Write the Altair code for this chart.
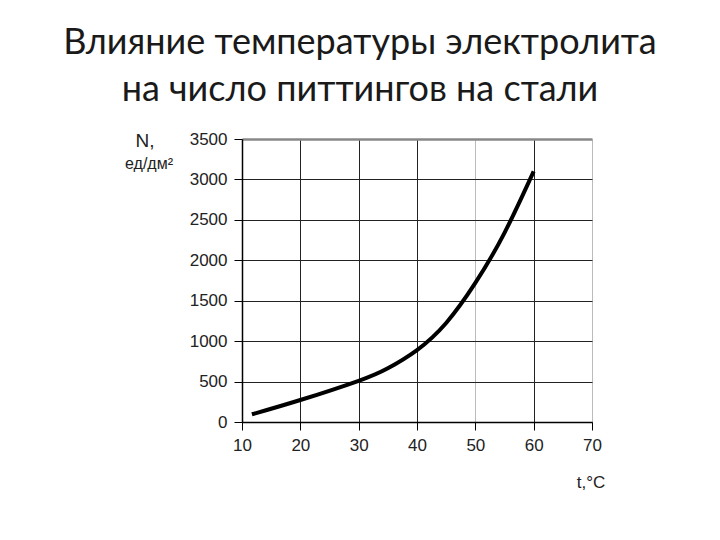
import altair as alt
import pandas as pd

temp = [11.7, 20, 30, 35, 40, 45, 50, 55, 60]
pits = [95, 272, 510, 665, 890, 1225, 1720, 2340, 3100]
x_ticks = [10, 20, 30, 40, 50, 60, 70]
y_ticks = [0, 500, 1000, 1500, 2000, 2500, 3000, 3500]
title_lines = ["Влияние температуры электролита", "на число питтингов на стали"]

df = pd.DataFrame({"t": temp, "N": pits})

W, H = 350, 283

line = alt.Chart(df).mark_line(color="black", strokeWidth=4, interpolate="natural").encode(
    x=alt.X("t:Q", scale=alt.Scale(domain=[10, 70], nice=False),
            axis=alt.Axis(values=x_ticks, title=None, format="d", labelFlush=False,
                          labelPadding=7,
                          gridColor=alt.condition("datum.value == 50 || datum.value == 70",
                                                  alt.value("#bbbbbb"), alt.value("#222222")))),
    y=alt.Y("N:Q", scale=alt.Scale(domain=[0, 3500], nice=False),
            axis=alt.Axis(values=y_ticks, title=None, format="d", labelFlush=False,
                          labelPadding=7,
                          gridColor=alt.condition("datum.value == 3500",
                                                  alt.value("#888888"), alt.value("#222222")),
                          gridWidth=alt.condition("datum.value == 3500",
                                                  alt.value(2.5), alt.value(1)))),
)

def label(txt, x, y, size=17):
    return alt.Chart(pd.DataFrame({"s": [txt]})).mark_text(
        font="Liberation Sans", fontSize=size, color="#222222", align="center", baseline="middle"
    ).encode(x=alt.value(x), y=alt.value(y), text="s:N")

chart = alt.layer(
    line,
    label("N,", -97, 2, 19),
    label("ед/дм²", -93, 25, 16),
    label("t,°C", 349, 344, 17),
).properties(
    width=W, height=H,
    title=alt.TitleParams(text=title_lines, anchor="middle", dx=-57, offset=21,
                          font="Lato", fontSize=36, fontWeight="normal", color="#1a1a1a",
                          lineHeight=47),
    padding={"left": 234, "top": 131, "right": 120, "bottom": 100},
    autosize=alt.AutoSizeParams(type="none"),
).configure_view(stroke=None).configure_axis(
    domainColor="black", domainWidth=1.5, tickColor="black", tickSize=8,
    labelFont="Liberation Sans", labelFontSize=17, labelColor="#222222",
    grid=True, gridWidth=1,
)

chart.save("out.html", embed_options={"renderer": "svg", "actions": False})
